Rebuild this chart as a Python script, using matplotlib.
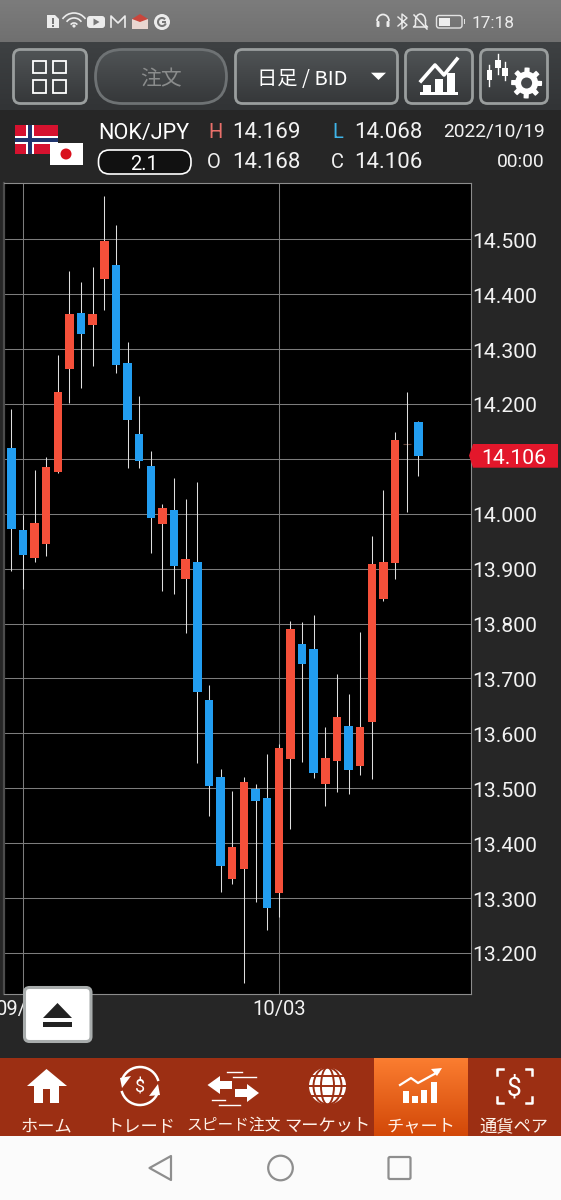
import numpy as np
import matplotlib
matplotlib.use('Agg')
import matplotlib.pyplot as plt
from matplotlib.patches import Rectangle, FancyBboxPatch, Circle, Polygon, Arc, Ellipse
from matplotlib.transforms import ScaledTranslation

# daily candles
opens = [14.120, 13.970, 13.919, 13.945, 14.077, 14.263, 14.365, 14.343, 14.428, 14.453, 14.275, 14.145,
         14.087, 13.982, 14.006, 13.882, 13.913, 13.660, 13.521, 13.334, 13.353, 13.499, 13.483, 13.309,
         13.554, 13.763, 13.753, 13.508, 13.550, 13.614, 13.540, 13.621, 13.844, 13.910, 14.128, 14.168]
highs = [14.190, 13.998, 14.080, 14.104, 14.290, 14.442, 14.422, 14.449, 14.579, 14.526, 14.313, 14.215,
         14.114, 14.017, 14.065, 14.027, 14.057, 13.689, 13.536, 13.495, 13.521, 13.508, 13.562, 13.580,
         13.805, 13.802, 13.816, 13.612, 13.708, 13.672, 13.785, 13.960, 14.043, 14.149, 14.221, 14.169]
lows = [13.896, 13.863, 13.912, 13.924, 14.074, 14.202, 14.229, 14.270, 14.372, 14.256, 14.084, 14.084,
        13.928, 13.859, 13.854, 13.783, 13.546, 13.450, 13.311, 13.326, 13.146, 13.292, 13.241, 13.266,
        13.426, 13.547, 13.518, 13.468, 13.494, 13.490, 13.524, 13.517, 13.842, 13.882, 14.004, 14.068]
closes = [13.972, 13.925, 13.983, 14.085, 14.222, 14.363, 14.328, 14.363, 14.497, 14.271, 14.171, 14.096,
          13.993, 14.011, 13.905, 13.917, 13.675, 13.505, 13.359, 13.393, 13.511, 13.476, 13.282, 13.573,
          13.791, 13.726, 13.528, 13.556, 13.630, 13.533, 13.611, 13.909, 13.913, 14.134, 14.128, 14.106]
price_ticks = [13.2, 13.3, 13.4, 13.5, 13.6, 13.7, 13.8, 13.9, 14.0, 14.1, 14.2, 14.3, 14.4, 14.5]
price_labels = ['13.200', '13.300', '13.400', '13.500', '13.600', '13.700', '13.800', '13.900', '14.000', '',
                '14.200', '14.300', '14.400', '14.500']
date_positions = [1, 23]
date_labels = ['09/01', '10/03']
last_price = '14.106'
nav_labels = ['ホーム', 'トレード', 'スピード注文', 'マーケット', 'チャート', '通貨ペア']

W, H = 561, 1200
LATIN = ['Roboto', 'DejaVu Sans']
CJK = ['Noto Sans CJK JP', 'Roboto', 'DejaVu Sans']

fig = plt.figure(figsize=(W / 100, H / 100), dpi=100, facecolor='#262626')


def px_axes(zorder):
    a = fig.add_axes([0, 0, 1, 1], zorder=zorder)
    a.set_xlim(0, W)
    a.set_ylim(H, 0)
    a.axis('off')
    a.patch.set_alpha(0)
    return a


bg = px_axes(0)
ui = px_axes(2)


def gradient(a, x0, y0, x1, y1, top, bottom, clip=None):
    c = matplotlib.colors.to_rgb(top), matplotlib.colors.to_rgb(bottom)
    t = np.linspace(0, 1, 64)[:, None, None]
    img = (1 - t) * np.array(c[0])[None, None, :] + t * np.array(c[1])[None, None, :]
    im = a.imshow(img, extent=(x0, x1, y1, y0), aspect='auto', zorder=1, interpolation='bilinear')
    if clip is not None:
        im.set_clip_path(clip)
    a.set_xlim(0, W)
    a.set_ylim(H, 0)


def rounded(a, x0, y0, x1, y1, r, **kw):
    p = FancyBboxPatch((x0, y0), x1 - x0, y1 - y0, boxstyle=f'round,pad=0,rounding_size={r}', **kw)
    a.add_patch(p)
    return p


def button(x0, y0, x1, y1, r, edge='#9a9e9e', lw=2.0):
    p = rounded(ui, x0, y0, x1, y1, r, fc='none', ec=edge, lw=lw, zorder=2)
    gradient(ui, x0, y0, x1, y1, '#505456', '#36383a', clip=p)


def label(x, y, s, size, color='#f2f2f2', ha='center', fam=LATIN, a=None):
    (a or ui).text(x, y, s, fontsize=size, color=color, ha=ha, va='center_baseline', family=fam, zorder=5)


# background bands
gradient(bg, 0, 0, W, 42, '#7c7c7c', '#707070')
gradient(bg, 0, 42, W, 110, '#3e4143', '#323436')
bg.add_patch(Rectangle((0, 110), W, 948, fc='#262626', ec='none', zorder=1))
bg.add_patch(Rectangle((0, 1058), W, 78, fc='#9c2f13', ec='none', zorder=1))
bg.add_patch(Rectangle((0, 1136), W, 64, fc='#fbfbfb', ec='none', zorder=1))
gradient(bg, 374, 1058, 467.5, 1136, '#fb7d30', '#d24808')

# the chart itself
ax = fig.add_axes([4 / W, 1 - 994 / H, 467 / W, 811 / H], zorder=1, facecolor='black')
xs = np.arange(len(opens))
o, h, l, c = map(np.array, (opens, highs, lows, closes))
ax.vlines(xs, l, h, color='#dedede', lw=0.75, zorder=3)
moved = o != c
colors = np.where(c > o, '#f5503a', '#229df0')
ax.bar(xs[moved], np.abs(c - o)[moved], bottom=np.minimum(o, c)[moved], width=0.73,
       color=colors[moved], zorder=4)
ax.hlines(o[~moved], xs[~moved] - 0.36, xs[~moved] + 0.36, color='#5e4238', lw=0.8, zorder=2)
ax.set_xlim(-0.628, 39.53)
ax.set_ylim(13.1253, 14.6025)
ax.yaxis.tick_right()
ax.set_yticks(price_ticks)
ax.set_yticklabels(price_labels, fontsize=15.2, color='#f2f2f2', family=LATIN)
ax.set_xticks(date_positions)
ax.set_xticklabels(date_labels, fontsize=14.5, color='#f2f2f2', family=LATIN)
ax.tick_params(axis='both', length=0)
ax.tick_params(axis='y', pad=1.2)
ax.tick_params(axis='x', pad=4.5)
nudge = ScaledTranslation(0, -1 / 100, fig.dpi_scale_trans)
for t in ax.get_yticklabels():
    t.set_transform(t.get_transform() + nudge)
ax.grid(True, color='#7c7c7c', lw=0.75, zorder=1)
for name, sp in ax.spines.items():
    sp.set_color('#8c8c8c')
    sp.set_linewidth(0.8)
ax.spines['left'].set_color('#4c4c4c')
ax.spines['left'].set_linewidth(1.6)

# status bar
W1 = '#ececec'
ui.add_patch(Polygon([(47, 15), (55, 15), (59, 19), (59, 28), (47, 28)], fc=W1, ec='none'))
ui.add_patch(Rectangle((52.3, 18), 1.6, 5.5, fc='#777777'))
ui.add_patch(Rectangle((52.3, 25), 1.6, 1.6, fc='#777777'))
for r in (4, 9, 14):
    ui.add_patch(Arc((74, 27), 2 * r, 2 * r, theta1=215, theta2=325, ec=W1, lw=1.2))
ui.add_patch(Circle((74, 26), 1.6, fc=W1))
rounded(ui, 87, 16, 105, 28, 3, fc=W1, ec='none')
ui.add_patch(Polygon([(93.5, 18.5), (93.5, 25.5), (99.5, 22)], fc='#777777'))
ui.plot([111, 111, 118, 125, 125], [27, 16, 23, 16, 27], color=W1, lw=1.2)
ui.add_patch(Rectangle((132, 19), 16, 10, fc='#e9d6d0', ec='none'))
ui.add_patch(Polygon([(132, 19), (140, 14), (148, 19), (140, 22)], fc='#c9463c', ec='none'))
ui.add_patch(Circle((162, 22), 8, fc=W1))
ui.add_patch(Arc((162, 22), 8, 8, theta1=20, theta2=320, ec='#777777', lw=1.5))
ui.add_patch(Rectangle((162, 21), 4, 1.8, fc='#777777'))
ui.add_patch(Arc((383, 21), 12, 13, theta1=180, theta2=360, ec=W1, lw=1.3))
rounded(ui, 376.5, 21, 379.5, 27, 1, fc=W1, ec='none')
rounded(ui, 386.5, 21, 389.5, 27, 1, fc=W1, ec='none')
ui.plot([398, 407, 402, 402, 407, 398], [17, 25, 29, 14, 18, 26], color=W1, lw=1.0)
ui.add_patch(Arc((420.5, 21), 10, 14, theta1=180, theta2=360, ec=W1, lw=1.1))
ui.plot([415.5, 415.5, 413.5, 427.5, 425.5, 425.5], [21, 25, 27, 27, 25, 21], color=W1, lw=1.1)
ui.plot([414, 427], [15, 29], color=W1, lw=1.1)
rounded(ui, 436.5, 15.5, 462, 28, 2.5, fc='none', ec='#e2e2e2', lw=1)
ui.add_patch(Rectangle((439, 18), 11, 7.5, fc='#eeeeee'))
ui.add_patch(Rectangle((464, 19), 1.5, 5, fc='#e2e2e2'))
label(472, 21.5, '17:18', 12.4, color='#ececec', ha='left')

# toolbar
button(13.5, 49.5, 86.5, 103.5, 7)
for gx in (33, 53):
    for gy in (60.7, 80):
        ui.add_patch(Rectangle((gx, gy), 13.5, 12.7, fc='none', ec='white', lw=1.3, zorder=4))
button(95.5, 49.5, 226.5, 103.5, 27, edge='#6e7274')
label(161, 77, '注文', 15, color='#8a8c8c', fam=CJK)
button(235.5, 49.5, 397.5, 103.5, 7)
label(302.5, 77, '日足 / BID', 14.6, color='white', fam=CJK)
ui.add_patch(Polygon([(371, 72.7), (386, 72.7), (378.5, 80)], fc='white', zorder=4))
button(405.5, 49.5, 472.5, 103.5, 7)
ui.add_patch(Rectangle((420, 92), 38, 2.6, fc='white', zorder=4))
for bx, by in ((423, 85), (435, 79), (447, 73)):
    ui.add_patch(Rectangle((bx, by), 8, 93 - by, fc='white', zorder=4))
ui.plot([421, 435, 444, 457], [81, 65, 75, 59], color='white', lw=2.6, zorder=4)
button(480.5, 49.5, 547.5, 103.5, 7)
for cx, y0, y1, b0, b1 in ((489.5, 65, 86, 70, 80), (498, 54, 74, 60, 68), (505, 62, 80, 68, 76)):
    ui.plot([cx, cx], [y0, y1], color='white', lw=1, zorder=4)
    ui.add_patch(Rectangle((cx - 2.6, b0), 5.2, b1 - b0, fc='white', zorder=4))
th = np.linspace(0, 2 * np.pi, 97)[:-1]
gear_r = 11.5 + 4 * (np.cos(8 * th) > 0)
ui.add_patch(Polygon(np.c_[526.6 + gear_r * np.cos(th), 83 + gear_r * np.sin(th)], fc='white', zorder=4))
ui.add_patch(Circle((526.6, 83), 5.5, fc='#44474a', zorder=5))

# instrument strip
ui.add_patch(Rectangle((15, 125), 43, 29, fc='#d6122f', zorder=3))
ui.add_patch(Rectangle((26, 125), 8, 29, fc='white', zorder=3))
ui.add_patch(Rectangle((15, 136), 43, 8, fc='white', zorder=3))
ui.add_patch(Rectangle((28, 125), 4, 29, fc='#20356e', zorder=3))
ui.add_patch(Rectangle((15, 138), 43, 4, fc='#20356e', zorder=3))
ui.add_patch(Rectangle((50, 143), 33, 22, fc='white', zorder=4))
ui.add_patch(Circle((66, 154), 5.5, fc='#d9101c', zorder=5))
label(144, 131, 'NOK/JPY', 15.6, color='white')
rounded(ui, 98.5, 150, 191, 174, 11, fc='#111111', ec='white', lw=1.2, zorder=3)
label(144.5, 162, '2.1', 14.5, color='white')
label(208, 130, 'H', 14.5, color='#e8706a', ha='left')
label(232, 130, '14.169', 16, ha='left')
label(332, 130, 'L', 14.5, color='#3fb4e8', ha='left')
label(354, 130, '14.068', 16, ha='left')
label(207, 160, 'O', 14.5, ha='left')
label(232, 160, '14.168', 16, ha='left')
label(331, 160, 'C', 14.5, ha='left')
label(354, 160, '14.106', 16, ha='left')
label(545, 130, '2022/10/19', 13.8, ha='right')
label(545, 160, '00:00', 13.8, ha='right')

# last price tag
ui.add_patch(Polygon([(469, 455.6), (473, 444), (558, 444), (558, 467.7), (473, 467.7)], fc='#e3172b', ec='none', zorder=3))
label(513.5, 456, last_price, 15.2, color='white')

# eject button
rounded(ui, 24.5, 987.5, 91, 1041.5, 5, fc='white', ec='#a8acac', lw=2.2, zorder=3)
ui.add_patch(Polygon([(43, 1018), (57.5, 1003), (72, 1018)], fc='#222222', zorder=4))
ui.add_patch(Rectangle((43, 1022), 29, 4.5, fc='#222222', zorder=4))

# bottom nav
nav_x = [46.5, 140.5, 234, 327.5, 420.5, 514]
for i, (nx, s) in enumerate(zip(nav_x, nav_labels)):
    label(nx, 1124, s, 11.3 if i == 2 else 12.4, color='#fff3ea', fam=CJK)

ui.add_patch(Polygon([(27, 1086), (46.5, 1069), (67, 1086), (59, 1086), (59, 1103), (50, 1103), (50, 1089),
                      (43, 1089), (43, 1103), (34, 1103), (34, 1086)], fc='white', zorder=4))
ui.add_patch(Arc((140, 1086), 38, 38, theta1=200, theta2=345, ec='white', lw=1.8, zorder=4))
ui.add_patch(Arc((140, 1086), 38, 38, theta1=20, theta2=165, ec='white', lw=1.8, zorder=4))
ui.add_patch(Polygon([(120, 1078), (131, 1076), (122, 1088)], fc='white', zorder=4))
ui.add_patch(Polygon([(160, 1095), (149, 1096), (158, 1084)], fc='white', zorder=4))
label(140.5, 1086, '$', 13, color='white')
ui.add_patch(Polygon([(207.5, 1085), (220, 1076), (220, 1081), (232, 1081), (232, 1089), (220, 1089), (220, 1094)], fc='white', zorder=4))
ui.add_patch(Polygon([(259, 1093), (247, 1084), (247, 1089), (235, 1089), (235, 1097), (247, 1097), (247, 1102)], fc='white', zorder=4))
for x0, x1, y in ((227, 242, 1072), (233, 256, 1077), (212, 225, 1100), (219, 240, 1105)):
    ui.plot([x0, x1], [y, y], color='white', lw=1, zorder=4)
ui.add_patch(Circle((327.5, 1086), 18.5, fc='white', zorder=4))
for rx in (6.5, 14):
    ui.add_patch(Ellipse((327.5, 1086), 2 * rx, 37, fc='none', ec='#9c2f13', lw=1.4, zorder=5))
for y in (1076, 1086, 1096):
    ui.plot([309, 346], [y, y], color='#9c2f13', lw=1.4, zorder=5)
for bx, by in ((403, 1091), (412, 1096), (421, 1090), (431, 1082)):
    ui.add_patch(Rectangle((bx, by), 6, 1103 - by, fc='white', zorder=4))
ui.plot([400, 411, 418, 438], [1085, 1078, 1083, 1072], color='white', lw=1.6, zorder=4)
ui.add_patch(Polygon([(442, 1068), (431, 1069), (437, 1076)], fc='white', zorder=4))
for sx, sy in ((497, 1069), (532, 1069), (497, 1103), (532, 1103)):
    dx = 6 if sx < 514 else -6
    dy = 6 if sy < 1086 else -6
    ui.plot([sx + dx, sx, sx], [sy, sy, sy + dy], color='white', lw=1.8, zorder=4)
label(514, 1086, '$', 19, color='white')

# android nav bar
GR = '#8e8e8e'
ui.add_patch(Polygon([(171, 1156), (171, 1180), (149.5, 1168)], closed=True, fc='none', ec=GR, lw=1.6, joinstyle='round', zorder=4))
ui.add_patch(Circle((280.5, 1168), 12.3, fc='none', ec=GR, lw=1.6, zorder=4))
rounded(ui, 388.5, 1157, 410.5, 1179, 1.5, fc='none', ec=GR, lw=1.6, zorder=4)

fig.savefig('out.png', dpi=100)
